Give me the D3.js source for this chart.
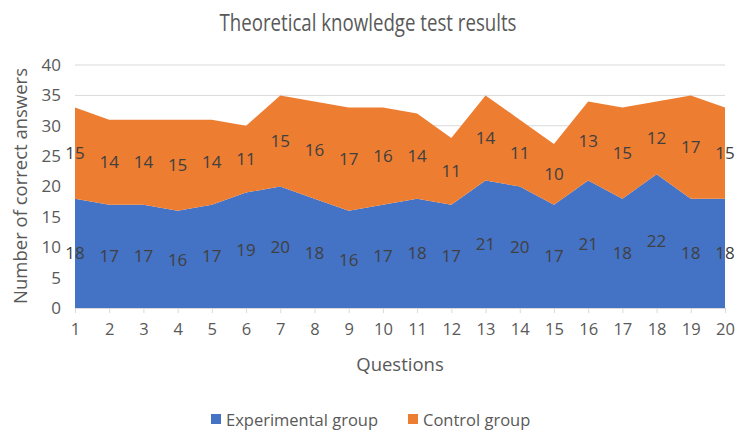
<!DOCTYPE html>
<html lang="en">
<head>
<meta charset="UTF-8">
<title>Theoretical knowledge test results</title>
<script src="https://d3js.org/d3.v7.min.js"></script>
<style>
  body { margin: 0; background: #fff; }
  text { font-family: "Open Sans", "Noto Sans", sans-serif; }
</style>
</head>
<body>
<div id="chart"></div>
<script>
// data
const questions = d3.range(1, 21);
const experimental = [18,17,17,16,17,19,20,18,16,17,18,17,21,20,17,21,18,22,18,18];
const control      = [15,14,14,15,14,11,15,16,17,16,14,11,14,11,10,13,15,12,17,15];
const yTicks = [0,5,10,15,20,25,30,35,40];
const seriesNames = ["Experimental group", "Control group"];
const colors = ["#4472C4", "#ED7D31"];

const W = 737, H = 432;
const margin = {top: 65, right: 12, bottom: 124, left: 75};
const width = W - margin.left - margin.right,
      height = H - margin.top - margin.bottom;

const svg = d3.select("#chart").append("svg")
  .attr("width", W).attr("height", H);

const g = svg.append("g")
  .attr("transform", `translate(${margin.left},${margin.top})`);

const x = d3.scaleLinear().domain([1, 20]).range([0, 650]);
const y = d3.scaleLinear().domain([0, 40]).range([height, 0]);

// gridlines
g.append("g")
  .selectAll("line")
  .data(yTicks.slice(1))
  .join("line")
  .attr("x1", 0).attr("x2", 650)
  .attr("y1", d => y(d)).attr("y2", d => y(d))
  .attr("stroke", "#d9d9d9").attr("stroke-width", 1);

// stacked areas
const rows = questions.map((q, i) => ({q: q, e: experimental[i], c: control[i]}));
const stack = d3.stack().keys(["e", "c"]);
const layers = stack(rows);

const area = d3.area()
  .x(d => x(d.data.q))
  .y0(d => y(d[0]))
  .y1(d => y(d[1]));

g.selectAll("path.layer")
  .data(layers)
  .join("path")
  .attr("class", "layer")
  .attr("d", area)
  .attr("fill", (d, i) => colors[i]);

// data labels centered in each band
layers.forEach(layer => {
  g.append("g")
    .selectAll("text")
    .data(layer)
    .join("text")
    .attr("x", d => x(d.data.q))
    .attr("y", d => y((d[0] + d[1]) / 2))
    .attr("dy", "0.36em")
    .attr("text-anchor", "middle")
    .attr("font-size", 17)
    .attr("fill", "#404040")
    .text(d => d[1] - d[0]);
});

// x axis
const xAxis = g.append("g")
  .attr("transform", `translate(0,${height})`)
  .call(d3.axisBottom(x).tickValues(questions).tickSize(5).tickPadding(10).tickFormat(d3.format("d")));
xAxis.select(".domain").attr("stroke", "#d9d9d9");
xAxis.selectAll(".tick line").attr("stroke", "#d9d9d9");
xAxis.selectAll("text").attr("font-size", 16.5).attr("fill", "#595959")
  .attr("font-family", "Open Sans, sans-serif");

// y axis
const yAxis = g.append("g")
  .call(d3.axisLeft(y).tickValues(yTicks).tickSize(0).tickPadding(14));
yAxis.select(".domain").remove();
yAxis.selectAll("text").attr("font-size", 17).attr("fill", "#595959")
  .attr("font-family", "Open Sans, sans-serif");

// titles
svg.append("text")
  .attr("x", 368).attr("y", 31)
  .attr("text-anchor", "middle")
  .attr("font-size", 24)
  .attr("textLength", 297).attr("lengthAdjust", "spacingAndGlyphs")
  .attr("fill", "#595959")
  .text("Theoretical knowledge test results");

svg.append("text")
  .attr("x", 400).attr("y", 371)
  .attr("text-anchor", "middle")
  .attr("font-size", 18.5)
  .attr("fill", "#595959")
  .text("Questions");

svg.append("text")
  .attr("transform", "rotate(-90)")
  .attr("x", -186).attr("y", 27)
  .attr("text-anchor", "middle")
  .attr("font-size", 18.5)
  .attr("fill", "#595959")
  .text("Number of correct answers");

// legend
const legendX = [211, 408];
const legend = svg.append("g")
  .selectAll("g")
  .data(seriesNames)
  .join("g")
  .attr("transform", (d, i) => `translate(${legendX[i]},426)`);
legend.append("rect")
  .attr("x", 0).attr("y", -12).attr("width", 10).attr("height", 10)
  .attr("fill", (d, i) => colors[i]);
legend.append("text")
  .attr("x", 15).attr("y", 0)
  .attr("font-size", 16.5)
  .attr("fill", "#595959")
  .text(d => d);
</script>
</body>
</html>
